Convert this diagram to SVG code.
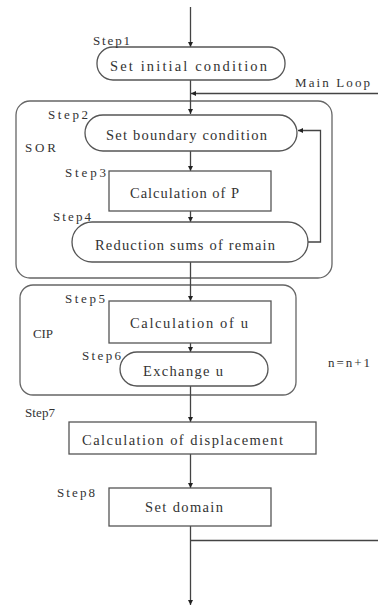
<svg xmlns="http://www.w3.org/2000/svg" width="378" height="607" viewBox="0 0 378 607">
<style>
.b{fill:#fff;stroke:#555;stroke-width:1.3}
.g{fill:none;stroke:#666;stroke-width:1.3}
.c{fill:none;stroke:#444;stroke-width:1.3}
.t{font-family:"Liberation Serif","Times New Roman",serif;font-size:14.5px;font-weight:normal;fill:#333}
.s{font-family:"Liberation Serif","Times New Roman",serif;font-size:13px;font-weight:normal;fill:#333}
</style>
<defs>
<marker id="a" viewBox="0 0 10 10" refX="10" refY="5" markerWidth="5" markerHeight="5" markerUnits="userSpaceOnUse" orient="auto">
<path d="M0,0L10,5L0,10z" fill="#222"/>
</marker>
</defs>
<rect fill="#fff" width="378" height="607"/>
<g id="sor">
<rect class="g" x="16" y="101" width="316" height="177" rx="14"/>
<text class="s" x="25" y="152" textLength="31" lengthAdjust="spacing">SOR</text>
</g>
<g id="cip">
<rect class="g" x="20" y="285" width="276" height="110" rx="13"/>
<text class="s" x="33" y="338" textLength="20" lengthAdjust="spacing">CIP</text>
</g>
<g id="connectors">
<path class="c" d="M190.5,7V47" marker-end="url(#a)"/>
<path class="c" d="M190.5,80V114" marker-end="url(#a)"/>
<path class="c" d="M378,93.5H191" marker-end="url(#a)"/>
<path class="c" d="M190.5,151V171" marker-end="url(#a)"/>
<path class="c" d="M190.5,211V222" marker-end="url(#a)"/>
<path class="c" d="M190.5,262V301" marker-end="url(#a)"/>
<path class="c" d="M308,242H320.5V130.5H298" marker-end="url(#a)"/>
<path class="c" d="M190.5,343V352" marker-end="url(#a)"/>
<path class="c" d="M190.5,386V422" marker-end="url(#a)"/>
<path class="c" d="M190.5,454V488" marker-end="url(#a)"/>
<path class="c" d="M190.5,526V605" marker-end="url(#a)"/>
<path class="c" d="M190.5,540.5H378"/>
</g>
<g id="step1">
<rect class="b" x="97" y="47" width="188" height="33" rx="16"/>
<text class="t" x="110" y="71" textLength="157" lengthAdjust="spacing">Set initial condition</text>
<text class="s" x="93" y="45" textLength="37" lengthAdjust="spacing">Step1</text>
</g>
<text class="s" x="295" y="87" textLength="75" lengthAdjust="spacing">Main Loop</text>
<g id="step2">
<rect class="b" x="85" y="115" width="212" height="36" rx="18"/>
<text class="t" x="106" y="140" textLength="161" lengthAdjust="spacing">Set boundary condition</text>
<text class="s" x="48" y="119" textLength="40" lengthAdjust="spacing">Step2</text>
</g>
<g id="step3">
<rect class="b" x="109" y="171" width="162" height="40"/>
<text class="t" x="130" y="198" textLength="109" lengthAdjust="spacing">Calculation of P</text>
<text class="s" x="65" y="177" textLength="41" lengthAdjust="spacing">Step3</text>
</g>
<g id="step4">
<rect class="b" x="72" y="222" width="236" height="40" rx="20"/>
<text class="t" x="95" y="250" textLength="180" lengthAdjust="spacing">Reduction sums of remain</text>
<text class="s" x="53" y="221" textLength="38" lengthAdjust="spacing">Step4</text>
</g>
<g id="step5">
<rect class="b" x="109" y="301" width="162" height="42"/>
<text class="t" x="130" y="328" textLength="118" lengthAdjust="spacing">Calculation of u</text>
<text class="s" x="65" y="303" textLength="40" lengthAdjust="spacing">Step5</text>
</g>
<g id="step6">
<rect class="b" x="120" y="352" width="148" height="34" rx="17"/>
<text class="t" x="143" y="376" textLength="80" lengthAdjust="spacing">Exchange u</text>
<text class="s" x="82" y="360" textLength="39" lengthAdjust="spacing">Step6</text>
</g>
<text class="s" x="328" y="367" textLength="42" lengthAdjust="spacing">n=n+1</text>
<g id="step7">
<rect class="b" x="69" y="422" width="247" height="32"/>
<text class="t" x="82" y="445" textLength="201" lengthAdjust="spacing">Calculation of displacement</text>
<text class="s" x="25" y="417" textLength="30" lengthAdjust="spacing">Step7</text>
</g>
<g id="step8">
<rect class="b" x="109" y="488" width="162" height="38"/>
<text class="t" x="145" y="512" textLength="78" lengthAdjust="spacing">Set domain</text>
<text class="s" x="57" y="497" textLength="38" lengthAdjust="spacing">Step8</text>
</g>
</svg>
